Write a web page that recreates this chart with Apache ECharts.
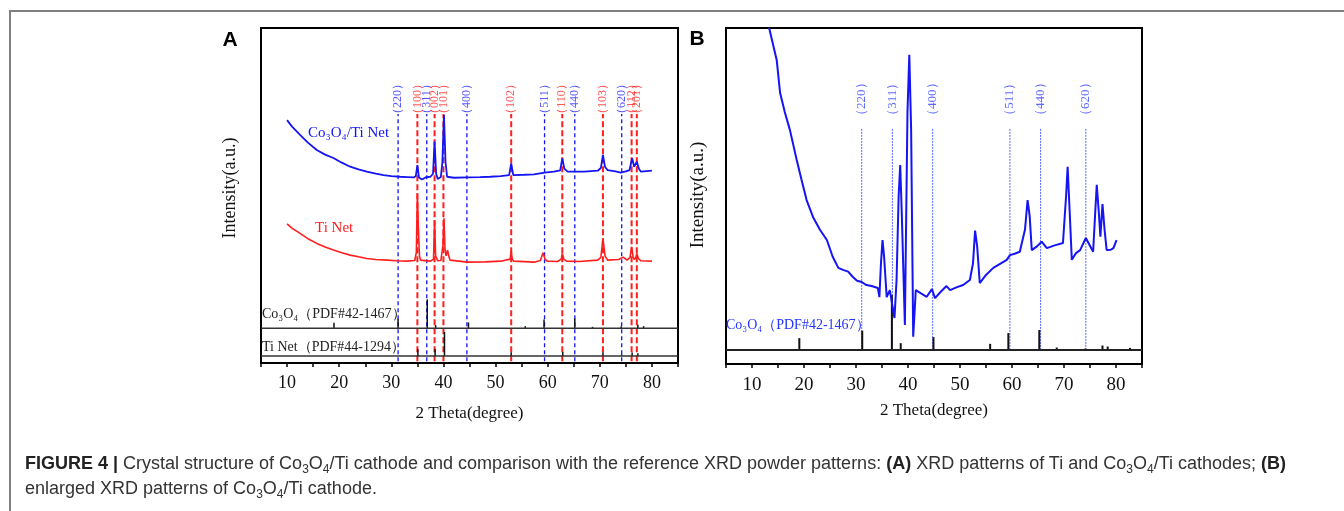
<!DOCTYPE html>
<html><head><meta charset="utf-8">
<script src="https://cdn.jsdelivr.net/npm/echarts@6/dist/echarts.min.js"></script>
<style>
html,body{margin:0;padding:0;background:#fff;}
#wrap{position:relative;width:1344px;height:511px;overflow:hidden;background:#fff;}
#chart{position:absolute;left:0;top:0;width:1344px;height:511px;}
#frame{position:absolute;left:9px;top:10px;width:1400px;height:600px;border-left:2px solid #808080;border-top:2px solid #808080;}
#caption{position:absolute;left:25px;top:451px;font-family:"Liberation Sans",Arial,sans-serif;font-size:18px;line-height:25px;color:#333;white-space:nowrap;}
#caption b{color:#222;}
#caption sub{font-size:12px;vertical-align:-4px;line-height:0;}
</style></head>
<body><div id="wrap"><div id="frame"></div><div id="chart"></div>
<div id="caption"><b>FIGURE 4 |</b> Crystal structure of Co<sub>3</sub>O<sub>4</sub>/Ti cathode and comparison with the reference XRD powder patterns: <b>(A)</b> XRD patterns of Ti and Co<sub>3</sub>O<sub>4</sub>/Ti cathodes; <b>(B)</b><br>enlarged XRD patterns of Co<sub>3</sub>O<sub>4</sub>/Ti cathode.</div>
</div>
<script>
// ---------- Panel A data ----------
const coTiNetA = [[10,72.5],[11,70.5],[12.5,68.1],[14,65.8],[15.7,63.6],[17.3,62.2],[18.9,61.2],[20.5,59.8],[22.1,58.6],[23.7,57.8],[25.3,57.1],[27,56.5],[28.5,56.1],[30,55.8],[31.7,55.6],[33,55.5],[34.3,55.4],[34.7,55.8],[35.0,59.1],[35.3,55.4],[35.9,54.8],[36.7,55.5],[37.5,55.6],[38.0,56.5],[38.3,66.1],[38.6,56.5],[38.9,54.9],[39.5,55.5],[39.8,60],[40.1,74.0],[40.4,60],[40.7,55.6],[42,55.3],[44.6,55.4],[47,55.5],[49,55.6],[51,55.8],[52.6,56.1],[53.0,59.6],[53.4,56.1],[55.5,56.2],[57.4,56.3],[59.4,56.8],[61.2,57.1],[62.4,57.5],[62.8,61.1],[63.2,58],[63.8,57.1],[65.2,57.1],[67,57.1],[69.6,57.4],[70.2,58.2],[70.6,62.1],[71.0,58.5],[71.5,57.6],[73,57.2],[74.0,56.8],[75.0,57.2],[75.7,57.6],[76.2,61.1],[76.6,58.6],[77.1,60.1],[77.5,58],[77.9,57.1],[79,57.3],[80,57.4]];
const tiNetA = [[10,41.5],[11,40.2],[12.5,38.7],[14,37.1],[15.7,35.7],[17.3,34.6],[18.9,33.7],[20.5,32.9],[22.1,32.2],[23.7,31.7],[25.3,31.2],[27,30.9],[29.2,30.7],[31,30.5],[33,30.4],[34.5,30.6],[34.8,33],[35.0,50.7],[35.2,40],[35.4,32],[35.6,30.7],[37.5,30.4],[38.1,31],[38.3,42.7],[38.5,32],[38.9,30.5],[39.5,30.6],[39.9,35],[40.1,43.2],[40.3,34],[40.5,32],[40.8,33.7],[41.0,32],[41.3,30.7],[44.6,30.1],[48,30.2],[51,30.4],[52.8,31],[53.0,33.5],[53.2,31],[53.5,30.4],[57.4,30.1],[58.6,30.6],[59.1,32.9],[59.5,31],[59.9,30.4],[61.9,30.3],[62.6,31],[62.8,32.7],[63.1,31],[63.6,30.4],[66,30.3],[69.6,30.7],[70.2,31.5],[70.6,37.2],[71.0,32],[71.5,30.7],[73.6,30.9],[74.5,31.6],[75.2,30.7],[75.8,31.5],[76.1,34.7],[76.4,31.5],[76.6,30.9],[76.9,31.5],[77.1,32.7],[77.4,31.2],[77.9,30.5],[80,30.4]];
const coRefBaseA = 10.4;
const coRefSticksA = [[19.0,12.0],[31.3,13.2],[36.9,19.0],[38.5,11.3],[44.8,12.1],[55.7,11.0],[59.3,13.0],[65.2,13.3],[68.6,10.8],[74.1,11.0],[77.3,11.4],[78.4,11.0]];
const tiRefBaseA = 2.1;
const tiRefSticksA = [[35.1,4.1],[38.4,4.2],[40.2,9.3],[53.0,3.2],[62.9,3.3],[70.6,3.2],[74.2,2.6],[76.2,3.1],[77.3,2.9]];
const coPlanePosA = [31.3,36.8,44.5,59.4,65.2,74.2];
const coPlaneLabelsA = ['220','311','400','511','440','620'];
const tiPlanePosA = [35.0,38.3,40.0,53.0,62.8,70.6,76.1,77.1];
const tiPlaneLabelsA = ['100','002','101','102','110','103','112','201'];
const guideSpanA = [0.5, 74.3];
const labelLevelA = 78.8;

// ---------- Panel B data ----------
const coTiNetB = [[13.3,100],[14.75,90.5],[15.4,80.7],[16.3,75],[17.3,69.6],[18.6,60.7],[19.5,55],[20.5,48.8],[21.8,43.5],[23.1,39.9],[24.4,36.9],[25.5,32],[26.6,28.6],[27.5,28.0],[28.5,27.5],[29.4,25.9],[30.2,24.8],[31.1,24.4],[32.0,23.5],[33.0,23.2],[34.2,22.6],[34.5,19.9],[34.8,30],[35.1,36.9],[35.4,32],[35.9,19.9],[36.5,22],[37.4,13.7],[37.8,25],[38.2,50],[38.5,59.2],[38.8,45],[39.4,11.6],[39.9,75],[40.25,92],[40.6,70],[41.0,8.1],[41.5,22],[42.5,21],[43.6,20],[44.6,22.3],[45.2,19.6],[46.3,21.5],[47.4,23.2],[48.1,22],[49.3,22.8],[50.6,23.5],[51.9,25],[52.5,30],[52.9,39.7],[53.3,35],[53.8,24.1],[55.0,26.5],[56.4,28.6],[57.7,29.8],[59.0,31],[59.6,32.4],[60.5,32.8],[61.5,33.4],[62.5,40],[63.0,48.8],[63.4,44],[63.8,33.9],[64.8,35],[65.7,36.4],[66.7,34.5],[68.2,35.3],[69.8,36],[70.4,50],[70.7,58.7],[71.1,45],[71.5,31],[72.3,33],[73.1,33.9],[74.2,37.5],[75.6,33.4],[76.0,45],[76.3,53.3],[76.7,45],[77.0,37.9],[77.4,47.6],[77.8,40],[78.2,33.9],[79.0,34],[79.5,34.5],[80.1,36.9]];
const coRefBaseB = 4.2;
const coRefSticksB = [[19.1,7.7],[31.2,9.9],[36.9,20.5],[38.6,6.2],[44.9,8.0],[55.8,6.0],[59.3,9.2],[65.25,10.1],[68.6,4.9],[74.1,4.6],[77.4,5.5],[78.4,5.2],[82.7,4.8]];
const coPlanePosB = [31.1,37.0,44.75,59.6,65.5,74.2];
const coPlaneLabelsB = ['220','311','400','511','440','620'];
const guideSpanB = [4.2, 70.2];
const labelLevelB = 78.8;

const SERIF = '"Liberation Serif","Times New Roman",serif';
const SANS = '"Liberation Sans",Arial,sans-serif';
const BLUE = '#1414f5', RED = '#ff1e1e';

const chart = echarts.init(document.getElementById('chart'), null, {renderer:'canvas'});

function segItem(color, width, dash) {
  return function (params, api) {
    const p1 = api.coord([api.value(0), api.value(1)]);
    const p2 = api.coord([api.value(0), api.value(2)]);
    return {type:'line', shape:{x1:p1[0], y1:p1[1], x2:p2[0], y2:p2[1]},
      style:{stroke:color, lineWidth:width, lineDash:dash || null}};
  };
}
function guides(idx, pos, span, color, width, dash) {
  return {type:'custom', xAxisIndex:idx, yAxisIndex:idx, renderItem: segItem(color, width, dash),
    encode:{x:0, y:[1,2]}, data: pos.map(p => [p, span[0], span[1]]), z:2, silent:true};
}
function sticks(idx, arr, base, color, width) {
  return {type:'custom', xAxisIndex:idx, yAxisIndex:idx, renderItem: segItem(color, width),
    encode:{x:0, y:[1,2]}, data: arr.map(s => [s[0], base, s[1]]), z:3, silent:true};
}
function baseline(idx, base, color, width) {
  return {type:'line', xAxisIndex:idx, yAxisIndex:idx, data:[[5,base],[85,base]], symbol:'none',
    lineStyle:{color:color, width:width}, z:3, silent:true};
}
function planeLabels(idx, pos, labels, level, color, size) {
  return {type:'scatter', xAxisIndex:idx, yAxisIndex:idx, symbolSize:0, z:5, silent:true,
    data: pos.map((p,i) => ({value:[p, level], name:'（' + labels[i] + '）'})),
    label:{show:true, position:'inside', rotate:90, formatter: p => p.name,
      color:color, fontSize:size, fontFamily:SERIF}};
}
function curve(idx, data, color, width) {
  return {type:'line', xAxisIndex:idx, yAxisIndex:idx, data:data, symbol:'none', clip:true,
    lineStyle:{color:color, width:width}, z:4, silent:true};
}
function xAxisCfg(idx, fs, margin, gap) {
  return {gridIndex:idx, type:'value', min:5, max:85, interval:5,
    axisLine:{show:true, onZero:false, lineStyle:{color:'#000', width:2}},
    axisTick:{show:true, inside:false, length:4, lineStyle:{color:'#000', width:1.5}},
    axisLabel:{formatter: v => (v % 10 === 0 && v >= 10 && v <= 80) ? String(v) : '',
      fontFamily:SERIF, fontSize:fs, color:'#111', margin:margin},
    splitLine:{show:false},
    name:'2 Theta(degree)', nameLocation:'middle', nameGap:gap,
    nameTextStyle:{fontFamily:SERIF, fontSize:17, color:'#111'}};
}
function yAxisCfg(idx) {
  return {gridIndex:idx, type:'value', min:0, max:100,
    axisLine:{show:false}, axisTick:{show:false}, axisLabel:{show:false}, splitLine:{show:false}};
}
function txt(x, y, text, font, fill, align, rot) {
  return {type:'text', x:x, y:y, rotation:rot || 0,
    style:{text:text, font:font, fill:fill, textAlign:align, textVerticalAlign:'middle', align:align, verticalAlign:'middle'}};
}

const option = {
  animation:false,
  backgroundColor:'transparent',
  grid:[
    {left:261, top:28, width:417, height:335, show:true, borderColor:'#000', borderWidth:2, backgroundColor:'transparent'},
    {left:726, top:28, width:416, height:336, show:true, borderColor:'#000', borderWidth:2, backgroundColor:'transparent'}
  ],
  xAxis:[xAxisCfg(0, 18, 11, 42), xAxisCfg(1, 19, 12, 38)],
  yAxis:[yAxisCfg(0), yAxisCfg(1)],
  series:[
    // Panel A
    guides(0, coPlanePosA, guideSpanA, BLUE, 1.3, [4,3]),
    guides(0, tiPlanePosA, guideSpanA, RED, 2, [6,3]),
    baseline(0, coRefBaseA, '#333', 1.5),
    baseline(0, tiRefBaseA, '#333', 1.5),
    sticks(0, coRefSticksA, coRefBaseA, '#111', 1.5),
    sticks(0, tiRefSticksA, tiRefBaseA, '#111', 1.5),
    curve(0, tiNetA, RED, 1.6),
    curve(0, coTiNetA, BLUE, 1.8),
    planeLabels(0, coPlanePosA, coPlaneLabelsA, labelLevelA, '#2a2aff', 12),
    planeLabels(0, tiPlanePosA, tiPlaneLabelsA, labelLevelA, '#ff2a2a', 12),
    // Panel B
    guides(1, coPlanePosB, guideSpanB, '#5566ff', 1, [2,1]),
    baseline(1, coRefBaseB, '#222', 2),
    sticks(1, coRefSticksB, coRefBaseB, '#111', 2),
    curve(1, coTiNetB, BLUE, 2),
    planeLabels(1, coPlanePosB, coPlaneLabelsB, labelLevelB, '#3344ff', 13)
  ],
  graphic:[
    txt(230, 40, 'A', 'bold 21px ' + SANS, '#000', 'center'),
    txt(697, 39, 'B', 'bold 21px ' + SANS, '#000', 'center'),
    txt(230, 188, 'Intensity(a.u.)', '18px ' + SERIF, '#111', 'center', Math.PI/2),
    txt(698, 195, 'Intensity(a.u.)', '19px ' + SERIF, '#111', 'center', Math.PI/2),
    txt(308, 133, 'Co₃O₄/Ti Net', '15px ' + SERIF, BLUE, 'left'),
    txt(315, 228, 'Ti Net', '15px ' + SERIF, RED, 'left'),
    txt(262, 314, 'Co₃O₄（PDF#42-1467）', '14px ' + SERIF, '#222', 'left'),
    txt(262, 347, 'Ti Net（PDF#44-1294）', '14px ' + SERIF, '#222', 'left'),
    txt(726, 325, 'Co₃O₄（PDF#42-1467）', '14px ' + SERIF, '#2233ff', 'left')
  ]
};
chart.setOption(option);
</script>
</body></html>
